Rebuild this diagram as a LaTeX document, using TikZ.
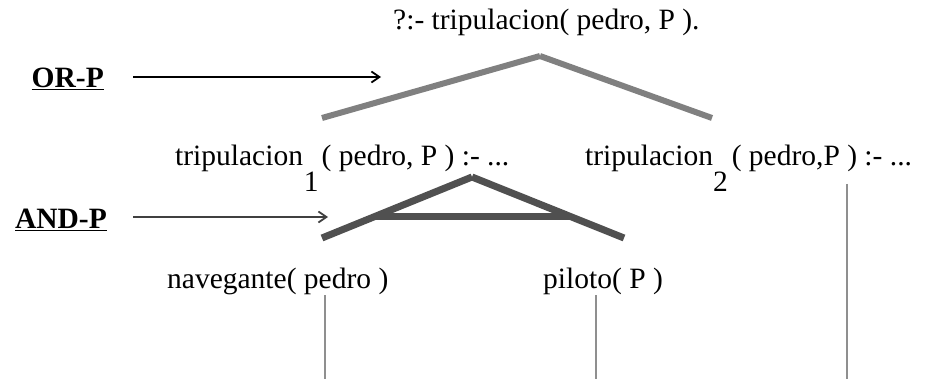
\documentclass[tikz,border=0pt]{standalone}
\usepackage{fontspec}
\setmainfont{Liberation Serif}
\usetikzlibrary{arrows.meta}
\definecolor{orgray}{HTML}{808080}
\definecolor{andgray}{HTML}{505050}
\definecolor{vgray}{HTML}{8F8F8F}
\definecolor{arrgray}{HTML}{404040}
\tikzset{
  lbl/.style={anchor=base west, inner sep=0pt, font=\fontsize{29.5}{34}\selectfont},
  lblr/.style={anchor=base east, inner sep=0pt, font=\fontsize{29.5}{34}\selectfont\bfseries},
  orline/.style={draw=orgray, line width=6pt, line cap=butt},
  andline/.style={draw=andgray, line width=7pt, line cap=butt},
  vline/.style={draw=vgray, line width=2pt},
  ptr/.style={line width=1.8pt, -{Straight Barb[length=8pt,width=11pt]}},
}
\begin{document}
\begin{tikzpicture}[x=1pt,y=-1pt]
\useasboundingbox (0,0) rectangle (925,379);
% texts
\node[lbl] (title) at (393,30) {?:- tripulacion( pedro, P ).};
\node[lblr] (orp) at (104,88) {\underline{OR-P}};
\node[lblr] (andp) at (107,229) {\underline{AND-P}};
\node[lbl] (trip1) at (175,166) {tripulacion\hspace{1pt}\raisebox{-26pt}{1}\hspace{3pt}( pedro, P ) :- ...};
\node[lbl] (trip2) at (585,166) {tripulacion\raisebox{-26pt}{2}\hspace{4pt}( pedro,P ) :- ...};
\node[lbl] (nav) at (167,288) {navegante( pedro )};
\node[lbl] (pil) at (543,288) {piloto( P )};
% OR tree
\coordinate (orapex) at (540,56);
\coordinate (orL) at (322,118);
\coordinate (orR) at (712,118);
\draw[orline] (orL) -- (orapex);
\draw[orline] (orapex) -- (orR);
% AND tree
\coordinate (andapex) at (472,177);
\coordinate (andL) at (322,238);
\coordinate (andR) at (624,238);
\coordinate (barL) at (374,217);
\coordinate (barR) at (571,217);
\draw[andline] (andL) -- (andapex);
\draw[andline] (andapex) -- (andR);
\draw[andline] (barL) -- (barR);
% pointers
\coordinate (orS) at (133,77);
\coordinate (orE) at (381,77);
\draw[ptr, black] (orS) -- (orE);
\coordinate (andS) at (133,217);
\coordinate (andE) at (328,217);
\draw[ptr, arrgray] (andS) -- (andE);
% vertical lines
\coordinate (navT) at (325,295);
\coordinate (navB) at (325,379);
\coordinate (pilT) at (596,295);
\coordinate (pilB) at (596,379);
\coordinate (t2T) at (847,184);
\coordinate (t2B) at (847,379);
\draw[vline] (navT) -- (navB);
\draw[vline] (pilT) -- (pilB);
\draw[vline] (t2T) -- (t2B);
\end{tikzpicture}
\end{document}
